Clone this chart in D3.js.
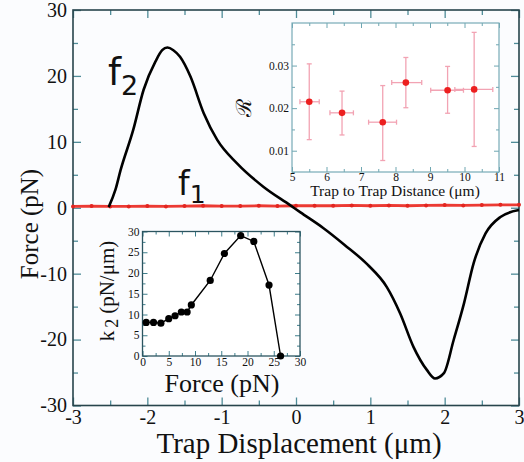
<!DOCTYPE html>
<html>
<head>
<meta charset="utf-8">
<script src="https://cdn.jsdelivr.net/npm/d3@7"></script>
<style>
  html, body { margin: 0; padding: 0; background: #fbfcfe; }
  svg { display: block; }
  text { font-family: "Liberation Serif", "Times New Roman", serif; fill: #111; }
</style>
</head>
<body>
<svg id="chart" width="524" height="462"></svg>
<script>
// ---- Main panel: force on trap 2 (f2) and trap 1 (f1) vs trap displacement ----
const f2X = [-2.52, -2.43, -2.36, -2.19, -2.05, -1.89, -1.80, -1.73, -1.65, -1.56, -1.42, -1.24, -1.06, -0.79, -0.44, -0.08, 0.06, 0.37, 0.65, 0.96, 1.22, 1.40, 1.58, 1.76, 1.87, 1.99, 2.12, 2.26, 2.39, 2.55, 2.75, 3.0];
const f2Y = [0.1, 2.7, 5.7, 11.8, 17.9, 22.2, 23.9, 24.3, 23.9, 22.9, 19.9, 14.3, 10.3, 6.7, 3.2, 0.4, -0.7, -3.1, -5.6, -8.6, -12.0, -16.0, -21.1, -24.6, -25.9, -25.1, -20.1, -14.5, -8.4, -3.9, -1.4, -0.35];
const f1X = [-3.0, -2.75, -2.5, -2.25, -2.0, -1.75, -1.5, -1.25, -1.0, -0.75, -0.5, -0.25, 0.0, 0.25, 0.5, 0.75, 1.0, 1.25, 1.5, 1.75, 2.0, 2.25, 2.5, 2.75, 3.0];
const f1Y = [0.2, 0.25, 0.2, 0.2, 0.25, 0.2, 0.25, 0.3, 0.25, 0.25, 0.3, 0.25, 0.3, 0.3, 0.3, 0.35, 0.3, 0.35, 0.3, 0.35, 0.4, 0.35, 0.4, 0.45, 0.45];
const mainXTicks = [-3, -2, -1, 0, 1, 2, 3];
const mainYTicks = [-30, -20, -10, 0, 10, 20, 30];

// ---- Inset: ratio R vs trap-to-trap distance ----
const rDist   = [5.50, 6.45, 7.63, 8.30, 9.51, 10.28];
const rDistLo = [5.23, 6.10, 7.22, 7.89, 9.02, 9.72];
const rDistHi = [5.79, 6.78, 8.03, 8.76, 9.97, 10.82];
const rVal    = [0.0215, 0.0189, 0.0167, 0.0260, 0.0242, 0.0244];
const rValLo  = [0.0126, 0.0137, 0.0077, 0.0201, 0.0188, 0.0110];
const rValHi  = [0.0304, 0.0240, 0.0253, 0.0319, 0.0298, 0.0378];
const rXTicks = [5, 6, 7, 8, 9, 10, 11];
const rYTicks = [0.01, 0.02, 0.03];

// ---- Inset: stiffness k2 vs force ----
const kForce = [0.7, 2.1, 3.5, 5.0, 6.2, 7.4, 8.5, 9.3, 12.9, 15.6, 18.7, 21.2, 24.1, 26.3];
const kStiff = [8.1, 8.1, 7.9, 9.0, 9.7, 10.6, 10.6, 12.3, 18.2, 24.7, 29.0, 27.6, 17.1, 0];
const kXTicks = [0, 5, 10, 15, 20, 25, 30];
const kYTicks = [0, 5, 10, 15, 20, 25, 30];

const svg = d3.select("#chart");
const SERIF = "'Liberation Serif', 'Times New Roman', serif";
const range = (a, b, s) => d3.range(a, b + s / 2, s);

// Draws a boxed frame with inward ticks on all four sides.
function framedAxes(g, x, y, opt) {
  const [x0, x1] = x.range();
  const [y0, y1] = y.range(); // y0 bottom, y1 top
  const w = x1 - x0, h = y0 - y1;
  const tc = opt.tickColor, fc = opt.frameColor;

  const addAxis = (gen, tx, ty, vals, size, labels, fmt, pad) => {
    const a = g.append("g").attr("transform", `translate(${tx},${ty})`)
      .attr("font-family", SERIF)
      .call(gen.tickValues(vals).tickSize(size).tickPadding(pad || 2)
        .tickFormat(labels ? fmt : () => ""));
    a.attr("font-family", SERIF);
    a.select(".domain").remove();
    a.selectAll(".tick line").attr("stroke", tc).attr("stroke-width", opt.tickWidth);
    a.selectAll(".tick text")
      .style("font-family", SERIF).style("font-size", opt.fontSize + "px")
      .style("fill", "#111");
    return a;
  };
  // bottom
  addAxis(d3.axisBottom(x), 0, y0, opt.xMajor, -opt.major, true, opt.xFmt, opt.padX);
  addAxis(d3.axisBottom(x), 0, y0, opt.xMinor, -opt.minor, false);
  // top
  addAxis(d3.axisTop(x), 0, y1, opt.xMajor, -opt.major, false);
  addAxis(d3.axisTop(x), 0, y1, opt.xMinor, -opt.minor, false);
  // left
  addAxis(d3.axisLeft(y), x0, 0, opt.yMajor, -opt.major, true, opt.yFmt, opt.padY);
  addAxis(d3.axisLeft(y), x0, 0, opt.yMinor, -opt.minor, false);
  // right
  addAxis(d3.axisRight(y), x1, 0, opt.yMajor, -opt.major, false);
  addAxis(d3.axisRight(y), x1, 0, opt.yMinor, -opt.minor, false);

  g.append("rect").attr("x", x0).attr("y", y1).attr("width", w).attr("height", h)
    .attr("fill", "none").attr("stroke", fc).attr("stroke-width", opt.frameWidth);
}

// ================= Main panel =================
const x = d3.scaleLinear().domain([-3, 3]).range([73, 519]);
const y = d3.scaleLinear().domain([-30, 30]).range([405.5, 10]);

const main = svg.append("g");
const fmtPlain = d => String(d);

framedAxes(main, x, y, {
  xMajor: mainXTicks, xMinor: range(-2.5, 2.5, 1),
  yMajor: mainYTicks, yMinor: range(-25, 25, 10),
  major: 8, minor: 5, padX: 4, padY: 6, fontSize: 20,
  tickColor: "#4f8c98", frameColor: "#27444c", tickWidth: 1.3, frameWidth: 1.6,
  xFmt: fmtPlain, yFmt: fmtPlain
});

// f1 (red) trace with its small markers
const f1Line = d3.line().x((d, i) => x(f1X[i])).y(d => y(d));
main.append("path").datum(f1Y).attr("d", f1Line)
  .attr("fill", "none").attr("stroke", "#ec3a33").attr("stroke-width", 2.8);
main.append("g").selectAll("circle").data(f1Y).join("circle")
  .attr("cx", (d, i) => x(f1X[i])).attr("cy", d => y(d)).attr("r", 2)
  .attr("fill", "#e22520");

// f2 (black) trace
const f2Line = d3.line().curve(d3.curveMonotoneX)
  .x((d, i) => x(f2X[i])).y(d => y(d));
main.append("path").datum(f2Y).attr("d", f2Line)
  .attr("fill", "none").attr("stroke", "#000").attr("stroke-width", 2.6)
  .attr("stroke-linejoin", "round");

// curve labels
const f2Lab = main.append("text").attr("x", 108).attr("y", 85)
  .style("font-family", "'DejaVu Sans', sans-serif").style("font-size", "37px");
f2Lab.append("tspan").text("f");
f2Lab.append("tspan").attr("dy", 10).style("font-size", "27px").text("2");
const f1Lab = main.append("text").attr("x", 178).attr("y", 195)
  .style("font-family", "'DejaVu Sans', sans-serif").style("font-size", "33px");
f1Lab.append("tspan").text("f");
f1Lab.append("tspan").attr("dy", 8).style("font-size", "25px").text("1");

// axis titles
svg.append("text").attr("x", 299).attr("y", 453).attr("text-anchor", "middle")
  .style("font-size", "29px").text("Trap Displacement (\u03BCm)");
svg.append("text").attr("transform", "translate(38,224) rotate(-90)")
  .attr("text-anchor", "middle").style("font-size", "25px").text("Force (pN)");

// ================= Inset: R vs distance =================
const rx = d3.scaleLinear().domain([5, 11]).range([292, 499]);
const ry = d3.scaleLinear().domain([0.005, 0.04]).range([172, 23]);
const ins1 = svg.append("g");
ins1.append("rect").attr("x", 292).attr("y", 23).attr("width", 207).attr("height", 149)
  .attr("fill", "#ffffff");
framedAxes(ins1, rx, ry, {
  xMajor: rXTicks, xMinor: range(5.5, 10.5, 1),
  yMajor: rYTicks, yMinor: [0.005, 0.015, 0.025, 0.035],
  major: 5, minor: 3, padX: 1, padY: 3, fontSize: 11.5,
  tickColor: "#6ea6b1", frameColor: "#77abb6", tickWidth: 1, frameWidth: 1.2,
  xFmt: d3.format("d"), yFmt: d3.format(".2f")
});
// error bars
const eb = ins1.append("g").attr("stroke", "#f2a3b3").attr("stroke-width", 1.3);
rVal.forEach((v, i) => {
  eb.append("line").attr("x1", rx(rDist[i])).attr("x2", rx(rDist[i]))
    .attr("y1", ry(rValLo[i])).attr("y2", ry(rValHi[i]));
  eb.append("line").attr("x1", rx(rDistLo[i])).attr("x2", rx(rDistHi[i]))
    .attr("y1", ry(v)).attr("y2", ry(v));
  [rValLo[i], rValHi[i]].forEach(e => eb.append("line")
    .attr("x1", rx(rDist[i]) - 2.5).attr("x2", rx(rDist[i]) + 2.5)
    .attr("y1", ry(e)).attr("y2", ry(e)));
  [rDistLo[i], rDistHi[i]].forEach(e => eb.append("line")
    .attr("x1", rx(e)).attr("x2", rx(e))
    .attr("y1", ry(v) - 2.5).attr("y2", ry(v) + 2.5));
});
ins1.append("g").selectAll("circle").data(rVal).join("circle")
  .attr("cx", (d, i) => rx(rDist[i])).attr("cy", d => ry(d)).attr("r", 3.3)
  .attr("fill", "#ec1f1f");
ins1.append("text").attr("x", 395).attr("y", 196).attr("text-anchor", "middle")
  .style("font-size", "15.5px").text("Trap to Trap Distance (\u03BCm)");
ins1.append("text").attr("transform", "translate(251,108) rotate(-90)")
  .attr("text-anchor", "middle").style("font-size", "21px")
  .style("font-family", "'DejaVu Serif', serif").text("\u211B");

// ================= Inset: k2 vs force =================
const kx = d3.scaleLinear().domain([0, 30]).range([142.5, 300]);
const ky = d3.scaleLinear().domain([0, 30]).range([356, 231.5]);
const ins2 = svg.append("g");
ins2.append("rect").attr("x", 142.5).attr("y", 231.5).attr("width", 157.5).attr("height", 124.5)
  .attr("fill", "#ffffff");
framedAxes(ins2, kx, ky, {
  xMajor: kXTicks, xMinor: range(2.5, 27.5, 5),
  yMajor: kYTicks, yMinor: range(2.5, 27.5, 5),
  major: 5, minor: 3, padX: 2, padY: 3, fontSize: 11.5,
  tickColor: "#3f7f8c", frameColor: "#2c5560", tickWidth: 1, frameWidth: 1.3,
  xFmt: d3.format("d"), yFmt: d3.format("d")
});
const kLine = d3.line().x((d, i) => kx(kForce[i])).y(d => ky(d));
ins2.append("path").datum(kStiff).attr("d", kLine)
  .attr("fill", "none").attr("stroke", "#000").attr("stroke-width", 1.4);
ins2.append("g").selectAll("circle").data(kStiff).join("circle")
  .attr("cx", (d, i) => kx(kForce[i])).attr("cy", d => ky(d)).attr("r", 3.6)
  .attr("fill", "#000");
ins2.append("text").attr("x", 222).attr("y", 392).attr("text-anchor", "middle")
  .style("font-size", "26px").text("Force (pN)");
const kLab = ins2.append("text").attr("transform", "translate(114,291) rotate(-90)")
  .attr("text-anchor", "middle").style("font-size", "21px");
kLab.append("tspan").text("k");
kLab.append("tspan").attr("dy", 4).attr("dx", 3).style("font-size", "18px").text("2");
kLab.append("tspan").attr("dy", -4).attr("dx", 5).text("(pN/\u03BCm)");
</script>
</body>
</html>
